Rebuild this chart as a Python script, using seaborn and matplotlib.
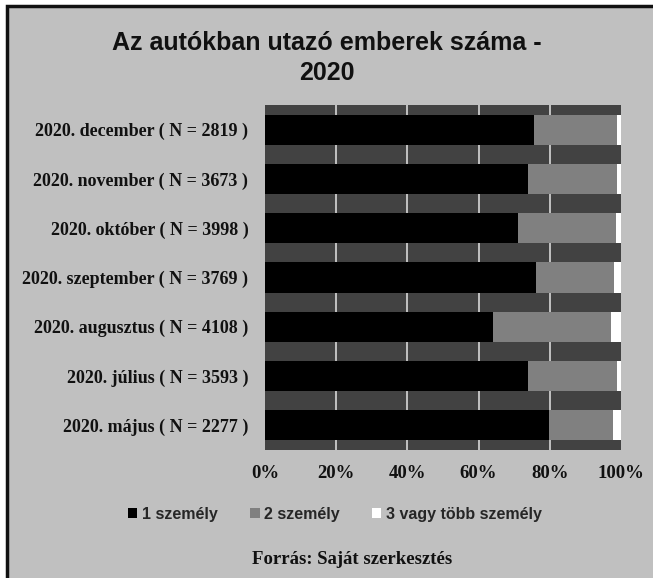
import pandas as pd
import numpy as np
import seaborn as sns
import matplotlib.pyplot as plt
from matplotlib.patches import Patch, Rectangle

# adatok (%)
honapok = ["2020. december ( N = 2819 )", "2020. november ( N = 3673 )",
           "2020. október ( N = 3998 )", "2020. szeptember ( N = 3769 )",
           "2020. augusztus ( N = 4108 )", "2020. július ( N = 3593 )",
           "2020. május ( N = 2277 )"]
egy_szemely = [75.6, 74.0, 71.2, 76.1, 64.1, 74.0, 79.7]
ket_szemely = [23.3, 24.9, 27.4, 22.0, 33.1, 24.9, 18.1]
harom_vagy_tobb = [1.1, 1.1, 1.4, 1.9, 2.8, 1.1, 2.2]
sorozatok = ["1 személy", "2 személy", "3 vagy több személy"]
szinek = ["#000000", "#808080", "#ffffff"]

df = pd.DataFrame({"honap": honapok, "s1": egy_szemely,
                   "s2": ket_szemely, "s3": harom_vagy_tobb})
df["c1"] = df["s1"]
df["c2"] = df["s1"] + df["s2"]
df["c3"] = df["s1"] + df["s2"] + df["s3"]

sns.set_style("white")
plt.rcParams["font.family"] = ["Liberation Sans", "DejaVu Sans"]

fig = plt.figure(figsize=(6.53, 5.78), dpi=100)
fig.patch.set_facecolor("white")
# szürke háttér kerettel (csak bal és felső él látszik)
fig.patches.append(Rectangle((7 / 653, -0.05), 1.1, 1 - 6 / 578 + 0.05,
                             transform=fig.transFigure, facecolor="#c0c0c0",
                             edgecolor="#111111", linewidth=2.5, zorder=-5))

ax = fig.add_axes([265 / 653, 1 - 450 / 578, 356 / 653, 345 / 578])
ax.set_facecolor("#424242")

# halmozott sávok: a kumulált értékeket egymásra rajzoljuk
for col, szin in zip(["c3", "c2", "c1"], szinek[::-1]):
    sns.barplot(data=df, x=col, y="honap", orient="h", color=szin,
                width=0.61, ax=ax, linewidth=0, saturation=1)

ax.set_xlim(0, 100)
ax.set_xticks([0, 20, 40, 60, 80, 100])
ax.set_xticklabels(["0%", "20%", "40%", "60%", "80%", "100%"])
ax.set_axisbelow(True)
ax.grid(axis="x", color="#d8d8d8", linewidth=1.2)
gl = ax.get_xgridlines()
gl[0].set_visible(False)
gl[-1].set_visible(False)
ax.set_xlabel("")
ax.set_ylabel("")
for s in ax.spines.values():
    s.set_visible(False)
ax.tick_params(axis="both", length=0)
ax.tick_params(axis="y", pad=12)
ax.tick_params(axis="x", pad=11)
for lab in ax.get_yticklabels():
    lab.set_family("Liberation Serif")
    lab.set_weight("bold")
    lab.set_fontsize(13)
    lab.set_color("#111111")
for lab in ax.get_xticklabels():
    lab.set_family("Liberation Serif")
    lab.set_weight("bold")
    lab.set_fontsize(13.5)
    lab.set_color("#111111")

fig.text(0.5, 1 - 58 / 578, "Az autókban utazó emberek száma -\n2020",
         ha="center", va="center", fontsize=18, fontweight="bold",
         linespacing=1.3, color="#111111")

handles = [Patch(facecolor=c, edgecolor="none") for c in szinek]
fig.legend(handles, sorozatok, loc="center", ncol=3,
           bbox_to_anchor=(335 / 653, 1 - 514 / 578), frameon=False,
           handlelength=0.6, handleheight=0.6, handletextpad=0.3,
           columnspacing=2.0, prop={"weight": "bold", "size": 11.5})

fig.text(352 / 653, 1 - 560 / 578, "Forrás: Saját szerkesztés",
         ha="center", va="center", family="Liberation Serif",
         fontweight="bold", fontsize=13.5, color="#111111")

fig.savefig("out.png", dpi=100, facecolor=fig.get_facecolor())
